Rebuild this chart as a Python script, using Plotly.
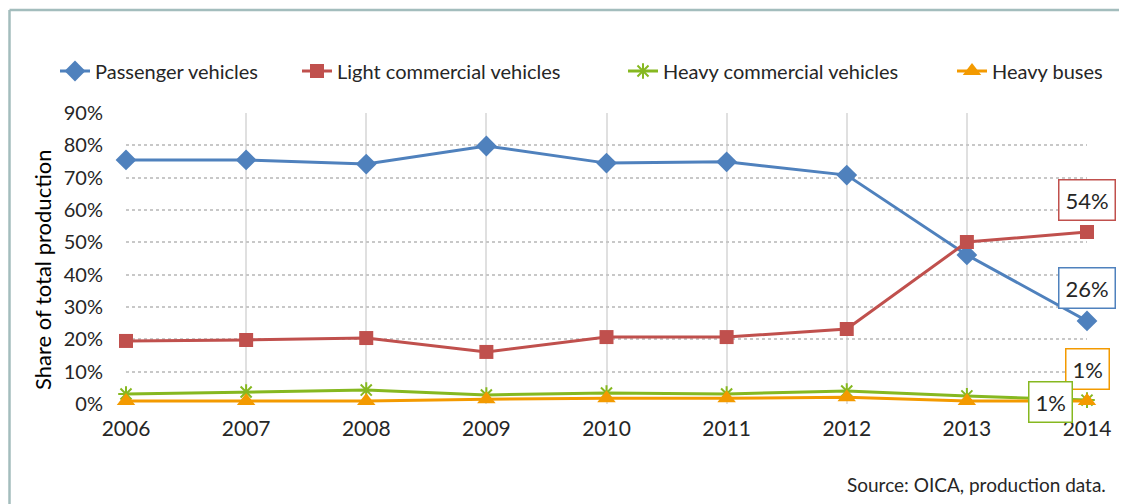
import plotly.graph_objects as go

years = [2006, 2007, 2008, 2009, 2010, 2011, 2012, 2013, 2014]
passenger = [75.5, 75.5, 74.2, 79.8, 74.5, 74.9, 70.8, 46.1, 25.7]
light_comm = [19.5, 19.8, 20.4, 16.1, 20.7, 20.7, 23.2, 50.1, 53.2]
heavy_comm = [3.1, 3.7, 4.3, 2.8, 3.4, 3.1, 4.0, 2.5, 1.2]
heavy_bus = [0.9, 0.9, 0.9, 1.5, 1.8, 1.8, 2.1, 0.9, 0.9]

y_ticks = [0, 10, 20, 30, 40, 50, 60, 70, 80, 90]
y_labels = [f"{v}%" for v in y_ticks]

FONT = "Lato"
TXT = "#262626"

series = [
    ("Passenger vehicles", passenger, "#4F81BD", dict(symbol="diamond", size=16)),
    ("Light commercial vehicles", light_comm, "#C0504D", dict(symbol="square", size=14)),
    ("Heavy commercial vehicles", heavy_comm, "#86B820", dict(symbol="asterisk-open", size=13, line=dict(width=2, color="#86B820"))),
    ("Heavy buses", heavy_bus, "#F39A00", dict(symbol="triangle-up", size=16)),
]

legend_names = ["legend", "legend2", "legend3", "legend4"]
legend_text_x = [97, 339, 665, 994]  # screen px where legend text starts

OFF = 8  # page body margin
W, H = 1127, 504
# screen positions: 2006 at 126, 2014 at 1087, 0% at 404, 90% at 113
L, T = 126 - OFF, 113 - OFF
R = W - (1087 - OFF)
B = H - (404 - OFF)
pw = W - L - R
ph = H - T - B

def px_x(p):
    return (p - OFF - L) / pw

def px_y(p):
    return (H - B - (p - OFF)) / ph

fig = go.Figure()
for (name, vals, col, mk), lg in zip(series, legend_names):
    m = dict(color=col, **mk)
    fig.add_trace(go.Scatter(
        x=years, y=[v / 100 for v in vals], name=name, mode="lines+markers",
        line=dict(color=col, width=3), marker=m, cliponaxis=False, legend=lg,
    ))

layout_legends = {}
for lg, tx in zip(legend_names, legend_text_x):
    layout_legends[lg] = dict(
        x=px_x(tx - 42), y=px_y(71), xanchor="left", yanchor="middle",
        orientation="h", bgcolor="rgba(0,0,0,0)",
        font=dict(family=FONT, size=20, color=TXT), itemwidth=30,
    )

fig.update_layout(
    width=W, height=H,
    margin=dict(l=L, r=R, t=T, b=B),
    paper_bgcolor="white", plot_bgcolor="white",
    font=dict(family=FONT, size=18, color=TXT),
    **layout_legends,
    xaxis=dict(
        range=[2006, 2014], tickvals=years, ticktext=[str(y) for y in years],
        showgrid=True, gridcolor="#E0E0E0", gridwidth=2, zeroline=False,
        showline=False, ticks="", ticklabelstandoff=10,
        tickfont=dict(family=FONT, size=21, color=TXT),
    ),
    yaxis=dict(
        range=[0, 0.9], tickvals=[v / 100 for v in y_ticks], ticktext=y_labels,
        showgrid=True, gridcolor="#C8C8C8", gridwidth=1.5, griddash="dot",
        zeroline=False, showline=False, ticks="", ticklabelstandoff=22,
        tickfont=dict(family=FONT, size=20, color=TXT),
    ),
    showlegend=True,
)

fig.add_annotation(
    xref="paper", yref="paper", x=px_x(42), y=px_y(270), text="Share of total production",
    textangle=-90, showarrow=False, font=dict(family=FONT, size=22, color="#000000"),
    xanchor="center", yanchor="middle",
)

fig.add_annotation(
    xref="paper", yref="paper", x=px_x(1108), y=px_y(485), text="Source: OICA, production data.",
    showarrow=False, font=dict(family=FONT, size=19, color=TXT), xanchor="right", yanchor="middle",
)

labels = [
    (years[-1], light_comm[-1], "54%", "#C0504D", 0, 32),
    (years[-1], passenger[-1], "26%", "#4F81BD", 0, 33),
    (years[-1], heavy_bus[-1], "1%", "#F39A00", 0, 32),
    (years[-1], heavy_comm[-1], "1%", "#86B820", -37, -2),
]
for x, v, t, col, xs, ys in labels:
    fig.add_annotation(
        x=x, y=v / 100, text=t, showarrow=False, xshift=xs, yshift=ys,
        font=dict(family=FONT, size=22, color=TXT), bgcolor="white",
        bordercolor=col, borderwidth=1.5, borderpad=6,
    )

border = dict(color="#A3BDBD", width=2.5)
fig.add_shape(type="line", xref="paper", yref="paper",
              x0=px_x(9.5), x1=px_x(W + 60), y0=px_y(10), y1=px_y(10), line=border, layer="below")
fig.add_shape(type="line", xref="paper", yref="paper",
              x0=px_x(9.5), x1=px_x(9.5), y0=px_y(10), y1=px_y(H + 60), line=border, layer="below")

fig.write_html("out.html")
